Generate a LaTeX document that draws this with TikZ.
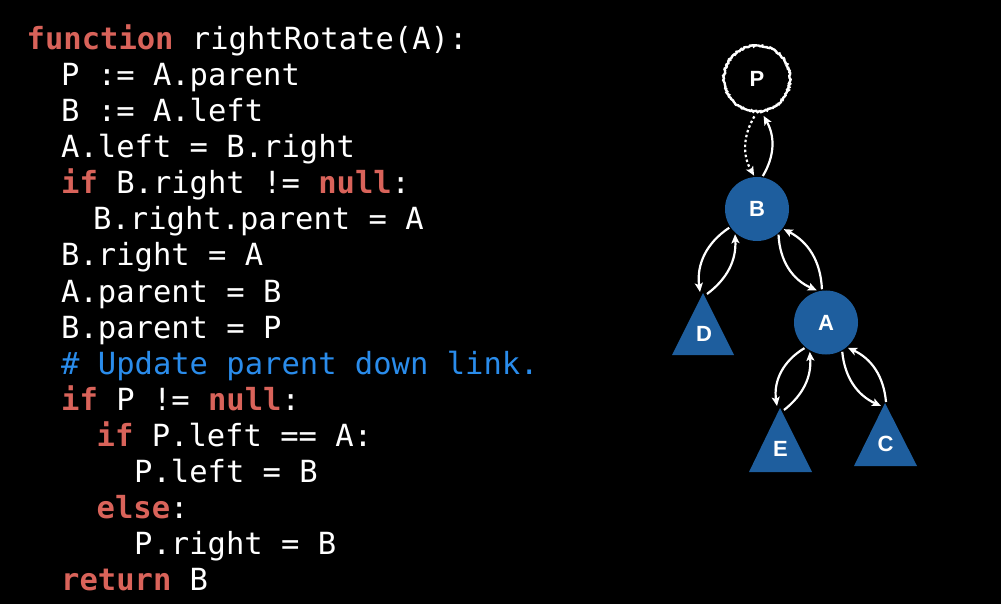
\documentclass[tikz,border=0pt]{standalone}
\usepackage{fontspec}
\setmonofont{DejaVu Sans Mono}
\setsansfont{Liberation Sans}
\usetikzlibrary{arrows.meta, decorations.pathmorphing}

\definecolor{kwred}{HTML}{D9635A}
\definecolor{cmtblue}{HTML}{2A8CEB}
\definecolor{nodeblue}{HTML}{1E5E9E}
\newcommand{\kwd}[1]{{\bfseries\color{kwred}#1}}
\newcommand{\cmt}[1]{{\color{cmtblue}#1}}

\tikzset{
    code/.style = {anchor = base west, inner sep = 0, text = white,
        font = \ttfamily\fontsize{30.5bp}{36bp}\selectfont},
    letter/.style = {inner sep = 0, text = white,
        font = \sffamily\bfseries\fontsize{22bp}{22bp}\selectfont},
    tree/.style = {letter, circle, minimum size = 64bp, outer sep = 1.5bp, fill = nodeblue},
    ghost/.style = {letter, circle, minimum size = 66bp, outer sep = 5bp, draw = white,
        line width = 2.4bp, decorate,
        decoration = {random steps, segment length = 1.2bp, amplitude = 0.8bp}},
    link/.style = {white, line width = 2.2bp,
        -{Stealth[length = 9bp, width = 8bp, inset = 2bp]}}
}

\begin{document}
\begin{tikzpicture}[x = 1bp, y = -1bp]
    \fill[black] (0, 0) rectangle (1001, 604);
    % code
    \node[code] (ln1) at (26.5, 50) {\kwd{function} rightRotate(A):};
    \node[code] (ln2) at (61, 86) {P := A.parent};
    \node[code] (ln3) at (61, 122) {B := A.left};
    \node[code] (ln4) at (61, 158) {A.left = B.right};
    \node[code] (ln5) at (61, 194) {\kwd{if} B.right != \kwd{null}:};
    \node[code] (ln6) at (93, 230) {B.right.parent = A};
    \node[code] (ln7) at (61, 266) {B.right = A};
    \node[code] (ln8) at (61, 302) {A.parent = B};
    \node[code] (ln9) at (61, 338) {B.parent = P};
    \node[code] (ln10) at (61, 374) {\cmt{\# Update parent down link.}};
    \node[code] (ln11) at (61, 410) {\kwd{if} P != \kwd{null}:};
    \node[code] (ln12) at (96.5, 446) {\kwd{if} P.left == A:};
    \node[code] (ln13) at (134, 482) {P.left = B};
    \node[code] (ln14) at (96.5, 518) {\kwd{else}:};
    \node[code] (ln15) at (134, 554) {P.right = B};
    \node[code] (ln16) at (61, 590) {\kwd{return} B};
    % tree
    \node[ghost] (P) at (757, 78.5) {P};
    \node[tree] (B) at (757, 209) {B};
    \node[tree] (A) at (826, 322.5) {A};
    \fill[nodeblue] (672, 355) -- (703, 293) -- (734, 355) -- cycle;
    \fill[nodeblue] (749, 472) -- (780, 408) -- (812, 472) -- cycle;
    \fill[nodeblue] (854, 466) -- (885, 403) -- (917, 466) -- cycle;
    \node[letter] (D) at (704, 333.5) {D};
    \node[letter] (E) at (780.5, 448.5) {E};
    \node[letter] (C) at (885.5, 443.5) {C};
    \coordinate (D-in) at (700, 292);
    \coordinate (D-out) at (707, 294);
    \coordinate (E-in) at (777, 406);
    \coordinate (E-out) at (784, 410);
    \coordinate (C-in) at (881, 406);
    \coordinate (C-out) at (886, 402);
    % links
    \draw[link, dash pattern = on 2.5bp off 2.5bp] (P.266) to[bend right = 30] (B.95);
    \draw[link] (B.80) to[bend right = 30] (P.280);
    \draw[link] (B.214) to[bend right = 32] (D-in);
    \draw[link] (D-out) to[bend right = 28] (B.229);
    \draw[link] (B.310) to[bend right = 32] (A.106);
    \draw[link] (A.97) to[bend right = 30] (B.323);
    \draw[link] (A.230) to[bend right = 34] (E-in);
    \draw[link] (E-out) to[bend right = 28] (A.241);
    \draw[link] (A.299) to[bend right = 30] (C-in);
    \draw[link] (C-out) to[bend right = 30] (A.311);
\end{tikzpicture}
\end{document}
